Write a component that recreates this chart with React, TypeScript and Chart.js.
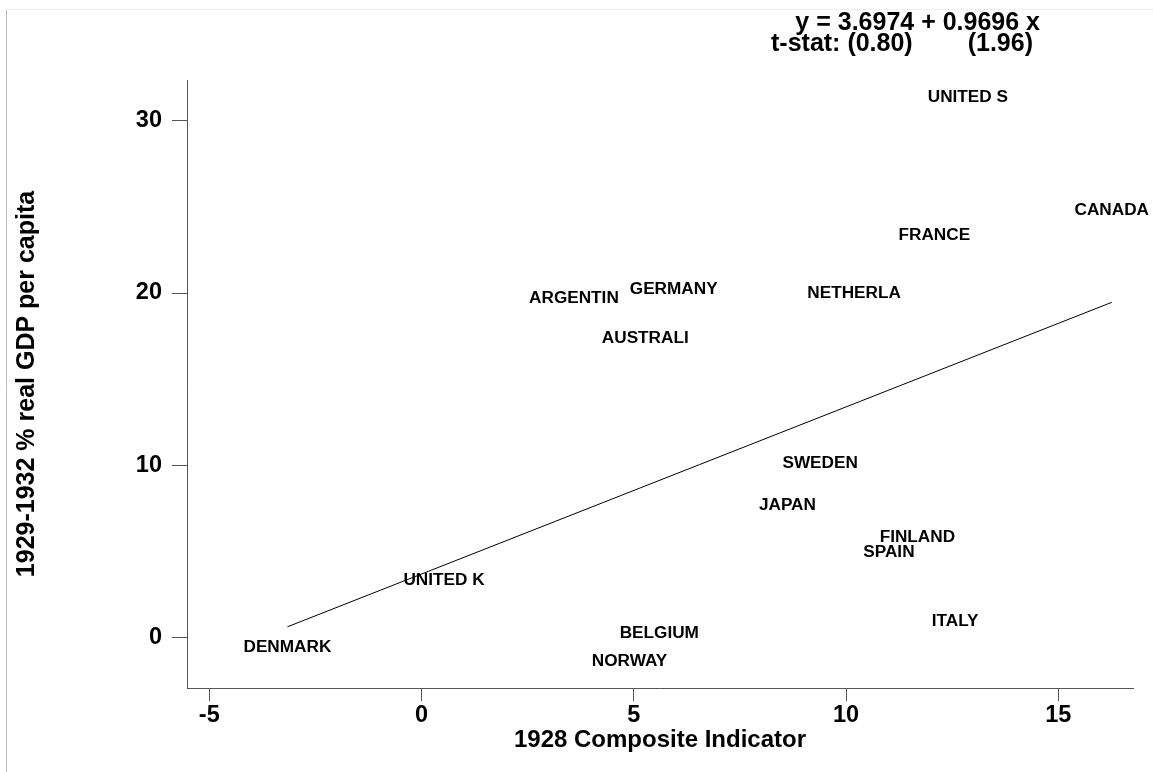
import React, { useEffect, useRef } from "react";
import { Chart, registerables } from "chart.js";

Chart.register(...registerables);

// ---- data ----
const countries = [
  "UNITED S", "CANADA", "FRANCE", "NETHERLA", "GERMANY", "ARGENTIN", "AUSTRALI", "SWEDEN",
  "JAPAN", "FINLAND", "SPAIN", "UNITED K", "ITALY", "BELGIUM", "DENMARK", "NORWAY",
];
const compositeIndicator1928 = [
  12.87, 16.26, 12.08, 10.19, 5.94, 3.59, 5.27, 9.39,
  8.62, 11.68, 11.01, 0.53, 12.57, 5.6, -3.16, 4.9,
];
const realGdpChange = [
  31.36, 24.8, 23.33, 20.01, 20.23, 19.7, 17.35, 10.14,
  7.66, 5.8, 4.93, 3.31, 0.96, 0.23, -0.55, -1.36,
];
// fitted regression line endpoints (y = 3.6974 + 0.9696 x over the data range)
const fitLineX = [-3.16, 16.26];
const fitLineY = [0.63, 19.46];

const xTickValues = [-5, 0, 5, 10, 15];
const yTickValues = [0, 10, 20, 30];

const xAxisTitle = "1928 Composite Indicator";
const yAxisTitle = "1929-1932 % real GDP per capita";
const equationText = "y = 3.6974 + 0.9696 x";
const tStatLabel = "t-stat: (0.80)";
const tStatSlope = "(1.96)";

const FONT = "'Liberation Sans', Arial, sans-serif";
const AXIS_COLOR = "#555555";

export default function App() {
  const canvasRef = useRef<HTMLCanvasElement | null>(null);

  useEffect(() => {
    const canvas = canvasRef.current;
    if (!canvas) return;

    const framePlugin = {
      id: "frame",
      beforeDraw(chart: any) {
        const ctx = chart.ctx;
        ctx.save();
        ctx.lineWidth = 1;
        ctx.strokeStyle = "#bdbdbd";
        ctx.beginPath();
        ctx.moveTo(6.5, 9);
        ctx.lineTo(6.5, chart.height);
        ctx.stroke();
        ctx.strokeStyle = "#f0f0f0";
        ctx.beginPath();
        ctx.moveTo(6, 9.5);
        ctx.lineTo(chart.width, 9.5);
        ctx.stroke();
        ctx.restore();
      },
    };

    const labelPlugin = {
      id: "countryLabels",
      afterDatasetsDraw(chart: any) {
        const meta = chart.getDatasetMeta(0);
        const ctx = chart.ctx;
        ctx.save();
        ctx.font = `bold 17.2px ${FONT}`;
        ctx.fillStyle = "#000000";
        ctx.textAlign = "center";
        ctx.textBaseline = "middle";
        meta.data.forEach((el: any, i: number) => {
          ctx.fillText(countries[i], el.x, el.y);
        });
        ctx.restore();
      },
    };

    const equationPlugin = {
      id: "equation",
      afterDraw(chart: any) {
        const { ctx, chartArea } = chart;
        ctx.save();
        ctx.font = `bold 25px ${FONT}`;
        ctx.fillStyle = "#000000";
        ctx.textBaseline = "alphabetic";
        ctx.textAlign = "right";
        ctx.fillText(equationText, chartArea.right - 93, 30);
        ctx.fillText(tStatSlope, chartArea.right - 100, 51);
        ctx.textAlign = "left";
        ctx.fillText(tStatLabel, chartArea.right - 362, 51);
        ctx.restore();
      },
    };

    const chart = new Chart(canvas, {
      type: "scatter",
      data: {
        datasets: [
          {
            label: "countries",
            data: compositeIndicator1928.map((x, i) => ({ x, y: realGdpChange[i] })),
            pointRadius: 0,
            pointHoverRadius: 0,
            showLine: false,
          },
          {
            label: "fit",
            data: fitLineX.map((x, i) => ({ x, y: fitLineY[i] })),
            showLine: true,
            borderColor: "#000000",
            borderWidth: 1,
            pointRadius: 0,
            fill: false,
          },
        ],
      },
      options: {
        responsive: false,
        animation: false,
        layout: { padding: { top: 80, right: 20, left: 0, bottom: 0 } },
        plugins: {
          legend: { display: false },
          tooltip: { enabled: false },
        },
        scales: {
          x: {
            type: "linear",
            position: "bottom",
            min: -5.525,
            max: 16.76,
            afterBuildTicks: (scale: any) => {
              scale.ticks = xTickValues.map((v) => ({ value: v }));
            },
            afterFit: (scale: any) => {
              scale.height = 84;
            },
            grid: {
              display: true,
              drawOnChartArea: false,
              drawTicks: true,
              tickLength: 13,
              color: AXIS_COLOR,
              lineWidth: 1,
            },
            border: { display: true, color: AXIS_COLOR, width: 1 },
            ticks: {
              font: { family: FONT, size: 23.5, weight: "bold" },
              color: "#000000",
              padding: 0,
              maxRotation: 0,
              autoSkip: false,
            },
            title: {
              display: true,
              text: xAxisTitle,
              font: { family: FONT, size: 24, weight: "bold" },
              color: "#000000",
              padding: { top: 0, bottom: 17.6 },
            },
          },
          y: {
            type: "linear",
            position: "left",
            min: -2.92,
            max: 32.36,
            afterBuildTicks: (scale: any) => {
              scale.ticks = yTickValues.map((v) => ({ value: v }));
            },
            afterFit: (scale: any) => {
              scale.width = 187;
            },
            grid: {
              display: true,
              drawOnChartArea: false,
              drawTicks: true,
              tickLength: 15,
              color: AXIS_COLOR,
              lineWidth: 1,
            },
            border: { display: true, color: AXIS_COLOR, width: 1 },
            ticks: {
              font: { family: FONT, size: 23.5, weight: "bold" },
              color: "#000000",
              padding: 10,
              autoSkip: false,
            },
            title: {
              display: true,
              text: yAxisTitle,
              font: { family: FONT, size: 25, weight: "bold" },
              color: "#000000",
              padding: { top: 12, bottom: 0 },
            },
          },
        },
      },
      plugins: [framePlugin, labelPlugin, equationPlugin],
    } as any);

    return () => {
      chart.destroy();
    };
  }, []);

  return (
    <div
      style={{
        position: "absolute",
        left: 0,
        top: 0,
        width: "1153px",
        height: "772px",
        background: "#ffffff",
      }}
    >
      <canvas ref={canvasRef} width={1153} height={772} style={{ display: "block" }} />
    </div>
  );
}
